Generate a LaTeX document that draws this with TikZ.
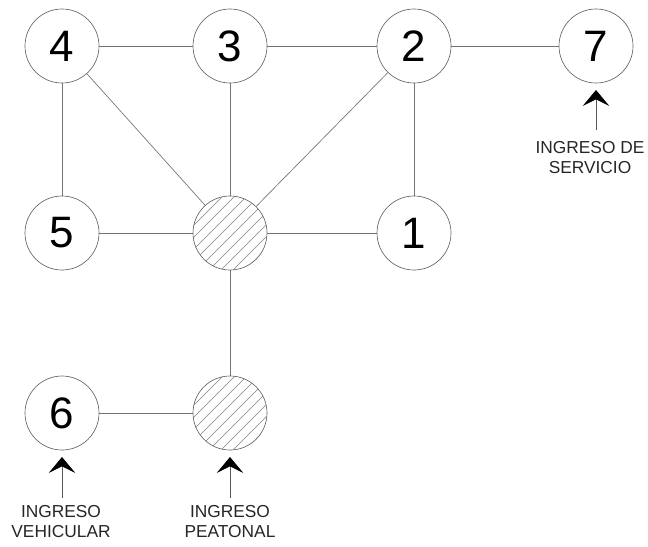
\documentclass[tikz,border=0pt]{standalone}
\usepackage{fontspec}
\setmainfont{Liberation Sans}
\usetikzlibrary{arrows.meta,calc}
\begin{document}
\begin{tikzpicture}[x=0.75pt,y=-0.75pt,
  circ/.style={circle,draw=black!60,line width=0.5pt,minimum size=55.5pt,inner sep=0pt,font=\fontsize{33}{33}\selectfont},
  conn/.style={draw=black!55,line width=0.5pt},
  entry/.style={draw=black!65,line width=0.6pt,-{Stealth[length=12pt,width=20pt,inset=5pt,color=black]}},
  lbl/.style={font=\fontsize{13}{15}\selectfont,align=center,text=black!85}]
\useasboundingbox (0,0) rectangle (648,546);
\node[circ] (n4) at (62,46) {4};
\node[circ] (n3) at (230,46) {3};
\node[circ] (n2) at (414,46) {2};
\node[circ] (n7) at (596,46) {7};
\node[circ] (n5) at (62,233) {5};
\node[circ] (h1) at (230,233) {};
\node[circ] (n1) at (414,233) {1};
\node[circ] (n6) at (62,413) {6};
\node[circ] (h2) at (230,413) {};
\foreach \c in {h1,h2}{
  \begin{scope}
    \clip (\c.center) circle (37);
    \foreach \k in {-80,-68,...,80}
      \draw[black!50,line width=0.4pt] ($(\c.center)+(\k-40,40)$) -- ($(\c.center)+(\k+40,-40)$);
  \end{scope}
}
\draw[conn] (n4) -- (n3);
\draw[conn] (n3) -- (n2);
\draw[conn] (n2) -- (n7);
\draw[conn] (n4) -- (n5);
\draw[conn] (n4) -- (h1);
\draw[conn] (n3) -- (h1);
\draw[conn] (n2) -- (h1);
\draw[conn] (n2) -- (n1);
\draw[conn] (n5) -- (h1);
\draw[conn] (h1) -- (n1);
\draw[conn] (h1) -- (h2);
\draw[conn] (n6) -- (h2);
\coordinate (a7) at (596,130);
\coordinate (t7) at (596,90);
\coordinate (a6) at (62,498);
\coordinate (t6) at (62,457);
\coordinate (ah) at (230,498);
\coordinate (th) at (230,457);
\draw[entry] (a7) -- (t7);
\draw[entry] (a6) -- (t6);
\draw[entry] (ah) -- (th);
\node[lbl] (l7) at (590,158) {INGRESO DE\\SERVICIO};
\node[lbl] (l6) at (61,522) {INGRESO\\VEHICULAR};
\node[lbl] (lh) at (230,522) {INGRESO\\PEATONAL};
\end{tikzpicture}
\end{document}
